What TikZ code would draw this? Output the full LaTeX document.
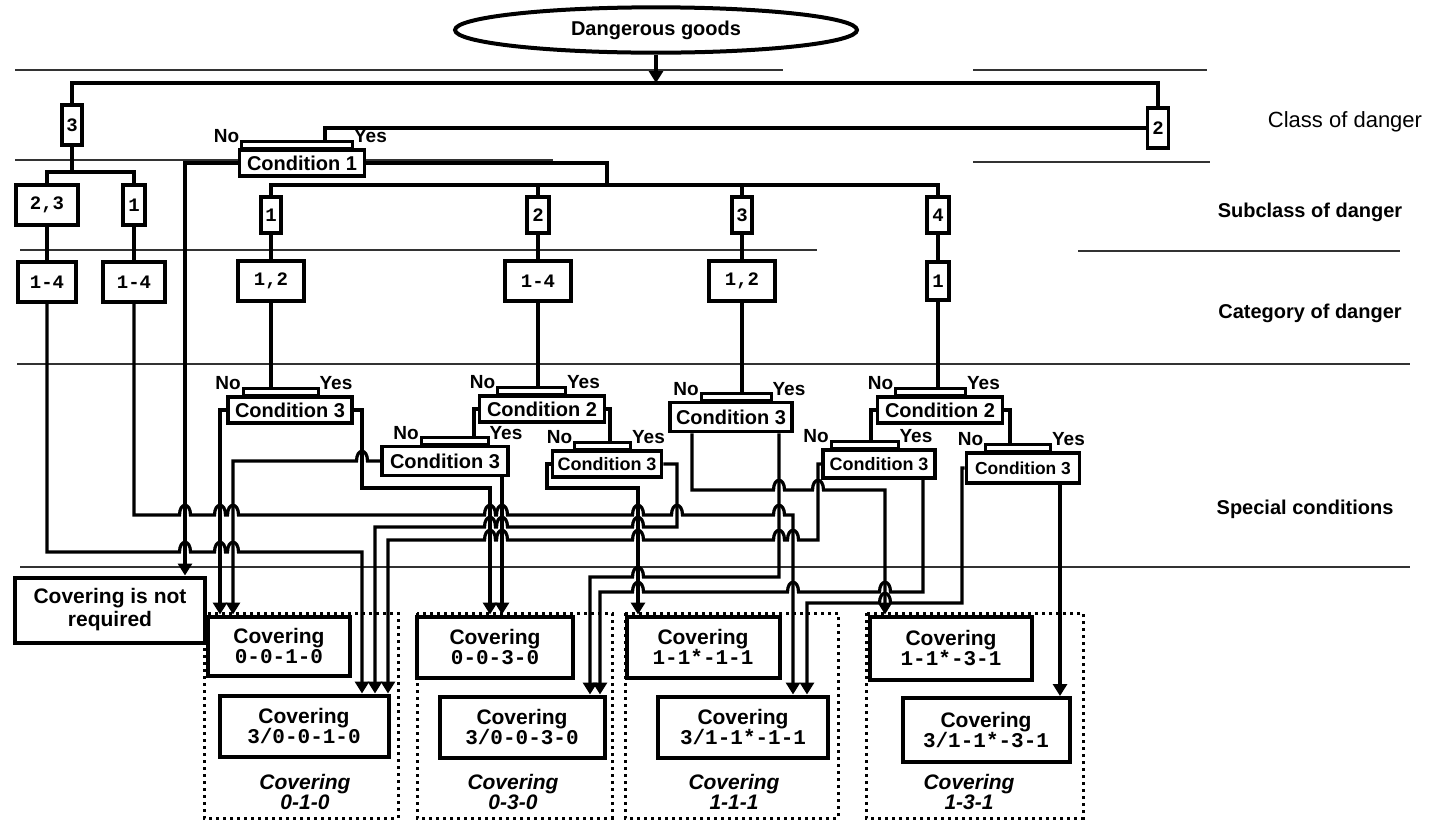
\documentclass[tikz,border=0pt]{standalone}
\usepackage{fontspec}
\setmainfont{Liberation Sans}
\setmonofont{Liberation Mono}
\usetikzlibrary{shapes.geometric,arrows.meta,calc}

% line hops (rightward / leftward)
\newcommand{\hopr}[2]{-- ({#1-5.5},#2) .. controls ({#1-5.5},{#2-13}) and ({#1+5.5},{#2-13}) .. ({#1+5.5},#2)}
\newcommand{\hopl}[2]{-- ({#1+5.5},#2) .. controls ({#1+5.5},{#2-13}) and ({#1-5.5},{#2-13}) .. ({#1-5.5},#2)}
\newcommand{\code}[1]{{\ttfamily\bfseries #1}}

\tikzset{
  wire/.style={line width=1.6pt},
  arr/.style={wire,-{Triangle[width=7pt,length=6pt]}},
  sep/.style={line width=0.6pt,black!80},
  grp/.style={line width=1.5pt,dotted},
  lvl/.style={draw,line width=1.8pt,fill=white,inner sep=0pt,font=\ttfamily\bfseries\fontsize{9.5}{10}\selectfont},
  cond/.style={draw,line width=1.8pt,fill=white,inner sep=0pt,minimum height=13pt,font=\bfseries\fontsize{10}{11}\selectfont},
  cover/.style={draw,line width=2pt,fill=white,inner sep=0pt,align=center,font=\bfseries\fontsize{10.5}{10}\selectfont},
  gtxt/.style={align=center,inner sep=0pt,font=\bfseries\itshape\fontsize{10.5}{10}\selectfont},
  yn/.style={inner sep=0pt,font=\bfseries\fontsize{9.5}{10}\selectfont},
  bar/.style={draw,line width=1.4pt,fill=white},
  layer/.style={font=\bfseries\fontsize{10}{12}\selectfont},
}

\begin{document}
\begin{tikzpicture}[x=0.5pt,y=-0.5pt]
\useasboundingbox (0,0) rectangle (1438,831);

% layer separators
\draw[sep] (15,70) -- (783,70);   \draw[sep] (973,70) -- (1207,70);
\draw[sep] (15,160) -- (553,160); \draw[sep] (973,162) -- (1210,162);
\draw[sep] (20,250) -- (817,250); \draw[sep] (1078,251) -- (1400,251);
\draw[sep] (17,364) -- (1410,364);
\draw[sep] (20,567) -- (1410,567);

% groups of coverings
\draw[grp] (204,613) rectangle (398,818);
\draw[grp] (417,613) rectangle (612,818);
\draw[grp] (625,613) rectangle (838,818);
\draw[grp] (866,613) rectangle (1083,818);

% layer names
\node[font=\fontsize{11}{13}\selectfont] (lclass) at (1345,122) {Class of danger};
\node[layer] (lsub) at (1310,212) {Subclass of danger};
\node[layer] (lcat) at (1310,313) {Category of danger};
\node[layer] (lspec) at (1305,509) {Special conditions};

% goods and class
\node[ellipse,draw,line width=2pt,fill=white,minimum width=201pt,minimum height=22pt,
      font=\bfseries\fontsize{10}{11}\selectfont] (goods) at (656,30) {Dangerous goods};
\node[lvl,minimum width=10pt,minimum height=20pt] (c3) at (72,125) {3};
\node[lvl,minimum width=10.5pt,minimum height=20pt] (c2) at (1158,128) {2};

% subclass
\node[lvl,minimum width=31pt,minimum height=20pt] (s23) at (47,205) {2,3};
\node[lvl,minimum width=11pt,minimum height=20pt] (s1) at (134,205) {1};
\node[lvl,minimum width=10pt,minimum height=18pt] (sb1) at (271,215) {1};
\node[lvl,minimum width=11pt,minimum height=18pt] (sb2) at (538,215) {2};
\node[lvl,minimum width=10pt,minimum height=18pt] (sb3) at (742,215) {3};
\node[lvl,minimum width=11pt,minimum height=18pt] (sb4) at (938,215) {4};

% category
\node[lvl,minimum width=29pt,minimum height=20pt] (k1) at (47,282) {1-4};
\node[lvl,minimum width=31pt,minimum height=20pt] (k2) at (134,282) {1-4};
\node[lvl,minimum width=33pt,minimum height=20pt] (k3) at (271,281) {1,2};
\node[lvl,minimum width=33pt,minimum height=20pt] (k4) at (538,281) {1-4};
\node[lvl,minimum width=33pt,minimum height=20pt] (k5) at (742,281) {1,2};
\node[lvl,minimum width=11pt,minimum height=19pt] (k6) at (938,281) {1};

% conditions
\node[cond,minimum width=62.5pt] (cond1) at (302,163) {Condition 1};
\node[cond,minimum width=62pt] (d1) at (290,410) {Condition 3};
\node[cond,minimum width=62.5pt] (d2) at (542,409) {Condition 2};
\node[cond,minimum width=61pt,minimum height=14.5pt] (d3) at (731,417) {Condition 3};
\node[cond,minimum width=62.5pt] (d4) at (940,410) {Condition 2};
\node[cond,minimum width=63pt,minimum height=14.5pt] (d5) at (445,461) {Condition 3};
\node[cond,minimum width=54.5pt,font=\bfseries\fontsize{9}{10}\selectfont] (d6) at (607,464) {Condition 3};
\node[cond,minimum width=56pt,minimum height=14pt,font=\bfseries\fontsize{9}{10}\selectfont] (d7) at (879,464) {Condition 3};
\node[cond,minimum width=56.5pt,minimum height=15pt,font=\bfseries\fontsize{8.7}{10}\selectfont] (d8) at (1023,468) {Condition 3};

\foreach \n/\a/\b in {cond1/4/115,d1/17/92,d2/20/88,d3/33/103,d4/20/90,d5/41/108,d6/24/80,d7/10/77,d8/21/86}{
  \draw[bar] ($(\n.north west)+(\a,0)$) rectangle ($(\n.north west)+(\b,-7)$);
  \coordinate (\n-top) at ($(\n.north west)+(0,-7)$);
  \node[yn,anchor=south east] at ($(\n.north west)+(\a-2,-5)$) {No};
  \node[yn,anchor=south west] at ($(\n.north west)+(\b+1,-5)$) {Yes};
}

% coverings
\node[cover,minimum width=95pt,minimum height=32.5pt,font=\bfseries\fontsize{10.5}{11.5}\selectfont] (nr) at (110,610) {Covering is not\\required};
\node[cover,minimum width=71pt,minimum height=29.5pt] (p1) at (279,646) {Covering\\\code{0-0-1-0}};
\node[cover,minimum width=84.5pt,minimum height=30.5pt] (q1) at (304,726) {Covering\\\code{3/0-0-1-0}};
\node[cover,minimum width=78pt,minimum height=30.5pt] (p2) at (495,647) {Covering\\\code{0-0-3-0}};
\node[cover,minimum width=82.5pt,minimum height=30.5pt] (q2) at (522,727) {Covering\\\code{3/0-0-3-0}};
\node[cover,minimum width=76.5pt,minimum height=30.5pt] (p3) at (703,647) {Covering\\\code{1-1*-1-1}};
\node[cover,minimum width=85pt,minimum height=30.5pt] (q3) at (743,727) {Covering\\\code{3/1-1*-1-1}};
\node[cover,minimum width=81pt,minimum height=31.5pt] (p4) at (951,648) {Covering\\\code{1-1*-3-1}};
\node[cover,minimum width=83.5pt,minimum height=32pt] (q4) at (986,730) {Covering\\\code{3/1-1*-3-1}};

\node[gtxt] (g1) at (305,792) {Covering\\0-1-0};
\node[gtxt] (g2) at (513,792) {Covering\\0-3-0};
\node[gtxt] (g3) at (734,792) {Covering\\1-1-1};
\node[gtxt] (g4) at (969,792) {Covering\\1-3-1};

% tree down to the conditions
\coordinate (topbus) at (656,83);
\coordinate (c3bus) at (72,172);
\coordinate (subbus) at (607,185);
\draw[arr] (goods.south) -- (topbus);
\draw[wire] (c3.north) -- (c3.north |- topbus) -- (c2.north |- topbus) -- (c2.north);
\draw[wire] (c3.south) -- (c3bus);
\draw[wire] (s23.north) -- (s23.north |- c3bus) -- (s1.north |- c3bus) -- (s1.north);
\draw[wire] (c2.west) -- (325,0 |- c2.west) -- (325,0 |- cond1-top);
\draw[arr] (cond1.west) -- (185,0 |- cond1.west) -- (185,0 |- nr.north);
\draw[wire] (cond1.east) -- (cond1.east -| subbus) -- (subbus);
\draw[wire] (sb1.north) -- (sb1.north |- subbus) -- (sb4.north |- subbus) -- (sb4.north);
\foreach \n in {sb2,sb3} \draw[wire] (\n.north) -- (\n.north |- subbus);
\foreach \a/\b in {s23/k1,s1/k2,sb1/k3,sb2/k4,sb3/k5,sb4/k6} \draw[wire] (\a.south) -- (\a.south |- \b.north);
\foreach \a/\b in {k3/d1,k4/d2,k5/d3,k6/d4} \draw[wire] (\a.south) -- (\a.south |- \b-top);

% condition 2 outputs
\draw[wire] (d2.west) -- (474,0 |- d2.west) -- (474,0 |- d5-top);
\draw[wire] (d2.east) -- (610,0 |- d2.east) -- (610,0 |- d6-top);
\draw[wire] (d4.west) -- (871,0 |- d4.west) -- (871,0 |- d7-top);
\draw[wire] (d4.east) -- (1010,0 |- d4.east) -- (1010,0 |- d8-top);

% class 3 lines
\draw[arr] (k1.south) -- (k1.south |- 0,552) \hopr{185}{552} \hopr{220}{552} \hopr{233}{552} -- (362,552) -- (362,0 |- q1.north);
\draw[arr] (k2.south) -- (k2.south |- 0,515) \hopr{185}{515} \hopr{220}{515} \hopr{233}{515} \hopr{490}{515} \hopr{502}{515} \hopr{638}{515} \hopr{677}{515} \hopr{779}{515} -- (793,515) -- (793,0 |- q3.north);

% condition 3 outputs
\draw[arr] (d1.west) -- (220,0 |- d1.west) -- (220,0 |- p1.north);
\draw[arr] (d1.east) -- (362,0 |- d1.east) -- (362,488) -- (490,488) -- (490,0 |- p2.north);
\draw[arr] (d5.west) \hopl{362}{461} -- (233,461) -- (233,0 |- p1.north);
\draw[arr] (502,0 |- d5.south) -- (502,0 |- p2.north);
\draw[arr] (d6.west) -- (547,0 |- d6.west) -- (547,488) -- (638,488) -- (638,0 |- p3.north);
\draw[arr] (d6.east) -- (677,0 |- d6.east) -- (677,527) \hopl{638}{527} \hopl{502}{527} \hopl{490}{527} -- (375,527) -- (375,0 |- q1.north);
\draw[arr] (692,0 |- d3.south) -- (692,490) \hopr{779}{490} \hopr{818}{490} -- (885,490) -- (885,0 |- p4.north);
\draw[arr] (779,0 |- d3.south) -- (779,577) \hopl{638}{577} -- (590,577) -- (590,0 |- q2.north);
\draw[arr] (d7.west) -- (818,0 |- d7.west) -- (818,540) \hopl{793}{540} \hopl{779}{540} \hopl{638}{540} \hopl{502}{540} \hopl{490}{540} -- (388,540) -- (388,0 |- q1.north);
\draw[arr] (923,0 |- d7.south) -- (923,592) \hopl{885}{592} \hopl{793}{592} \hopl{638}{592} -- (600,592) -- (600,0 |- q2.north);
\draw[arr] (d8.west) -- (962,0 |- d8.west) -- (962,603) \hopl{885}{603} -- (807,603) -- (807,0 |- q3.north);
\draw[arr] (1060,0 |- d8.south) -- (1060,0 |- q4.north);
\end{tikzpicture}
\end{document}
